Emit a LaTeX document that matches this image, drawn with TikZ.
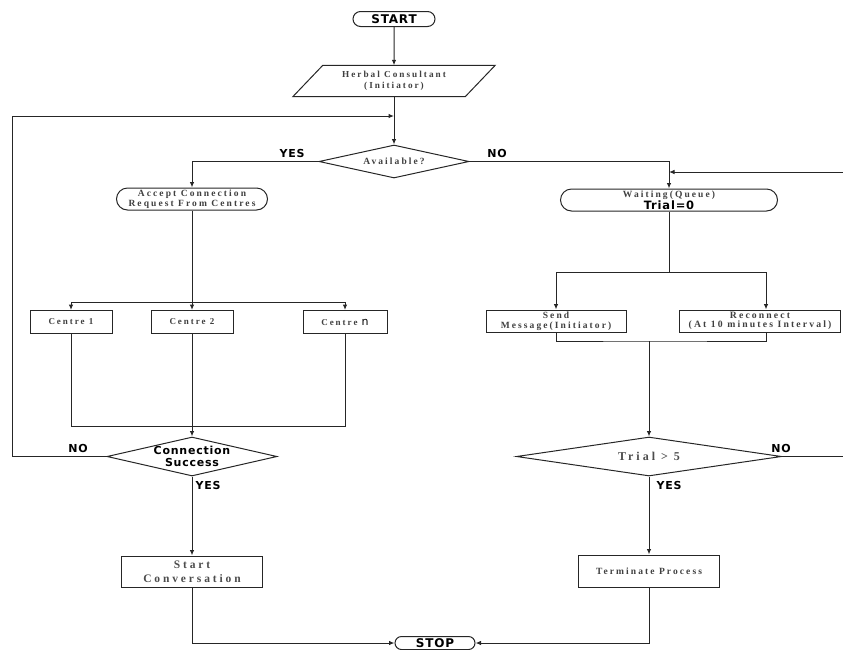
\documentclass[tikz,border=0pt]{standalone}
\usepackage{fontspec}
\setmainfont{Liberation Serif}
\newfontfamily\srf[LetterSpace=22]{Liberation Serif}
\newfontfamily\srl[LetterSpace=25]{Liberation Serif}
\newfontfamily\snb[LetterSpace=7]{DejaVu Sans}
\newfontfamily\dvs{DejaVu Sans}
\usetikzlibrary{shapes.geometric,shapes.misc,arrows.meta}
\begin{document}
\begin{tikzpicture}[x=1pt,y=-1pt,
  ln/.style={draw=black!85,line width=1pt},
  arr/.style={ln,-{Latex[length=5.5pt,width=4.5pt]}},
  term/.style={rounded rectangle,ln,inner sep=0pt},
  pbox/.style={rectangle,ln,inner sep=0pt},
  dia/.style={diamond,ln,inner sep=0pt},
  st/.style={font=\srf\bfseries\fontsize{9.5}{9.5}\selectfont,text=black!75,align=center},
  stl/.style={font=\srl\bfseries\fontsize{11.5}{13.5}\selectfont,text=black!70,align=center},
  sb/.style={font=\snb\bfseries\fontsize{12}{12}\selectfont,align=center},
  lab/.style={font=\snb\bfseries\fontsize{11}{11}\selectfont,inner sep=0pt}
]
\useasboundingbox (0,0) rectangle (843,649);
\clip (0,0) rectangle (843,649);

% nodes
\node[term,minimum width=82pt,minimum height=15pt,sb] (start) at (394,19) {START};
\node[minimum width=172pt,minimum height=31pt,inner sep=0pt,st,font=\srf\bfseries\fontsize{9.2}{11}\selectfont] (hc) at (394,81) {Herbal Consultant\\(Initiator)};
\node[dia,minimum width=150pt,minimum height=33pt,label={[st,font=\srf\bfseries\fontsize{9.5}{10}\selectfont]center:Available?}] (av) at (394,161.5) {};
\node[term,minimum width=151pt,minimum height=22pt,st] (acc) at (192,199) {Accept Connection\\Request From Centres};
\node[pbox,minimum width=82pt,minimum height=23pt,st,font=\srf\bfseries\fontsize{9}{9}\selectfont] (c1) at (71,322) {Centre 1};
\node[pbox,minimum width=82pt,minimum height=23pt,st,font=\srf\bfseries\fontsize{9}{9}\selectfont] (c2) at (192,322) {Centre 2};
\node[pbox,minimum width=84pt,minimum height=23pt,st,font=\srf\bfseries\fontsize{9}{9}\selectfont] (cn) at (345,322) {Centre {\dvs\mdseries\fontsize{11}{10}\selectfont\color{black} n}};
\node[dia,minimum width=170pt,minimum height=39pt,label={[sb,font=\snb\bfseries\fontsize{11}{12.5}\selectfont]center:Connection\\Success}] (cs) at (192,456.5) {};
\node[pbox,minimum width=141pt,minimum height=31pt,stl] (sc) at (192,571.5) {Start\\Conversation};
\node[term,minimum width=80pt,minimum height=13pt,sb] (stop) at (435,643) {STOP};
\node[term,minimum width=217pt,minimum height=22pt,align=center,inner sep=0pt,font=\fontsize{9.5}{10.5}\selectfont] (wait) at (669,200) {{\srf\bfseries\color{black!75}Waiting(Queue)}\\{\snb\bfseries\fontsize{11.5}{10.5}\selectfont Trial=0}};
\node[pbox,minimum width=140pt,minimum height=22pt,st] (send) at (556,321) {Send\\Message(Initiator)};
\node[pbox,minimum width=161pt,minimum height=22pt,st,font=\srf\bfseries\fontsize{9.7}{9.5}\selectfont] (rec) at (760,321) {Reconnect\\(At 10 minutes Interval)};
\node[dia,minimum width=265pt,minimum height=39pt,label={[stl,font=\srl\bfseries\fontsize{12}{13}\selectfont]center:Trial > 5}] (tr) at (649,456.5) {};
\node[pbox,minimum width=141pt,minimum height=32pt,st] (tp) at (649,571) {Terminate Process};

% parallelogram outline
\draw[ln] ([xshift=15pt]hc.north west) -- ([xshift=15pt]hc.north east) -- ([xshift=-15pt]hc.south east) -- ([xshift=-15pt]hc.south west) -- cycle;

% helper coordinates
\coordinate (lb) at (12,116);
\coordinate (b1) at (192,302);
\coordinate (m1) at (192,426);
\coordinate (b2) at (669,272);
\coordinate (m2) at (649,341);
\coordinate (rt) at (848,172);
\coordinate (rb) at (848,456.5);

% connectors
\draw[arr] (start) -- (hc);
\draw[arr] (hc.south) -- (av.north);
\draw[arr] (cs.west) -| (lb) -- (lb -| av.north);
\draw[arr] (av.west) -| (acc.north);
\draw[arr] (av.east) -| (wait.north);
\draw[arr] (acc.south) -- (c2.north);
\draw[arr] (b1) -| (c1.north);
\draw[arr] (b1) -| (cn.north);
\draw[ln] (c1.south) |- (m1) -| (cn.south);
\draw[arr] (c2.south) -- (cs.north);
\draw[arr] (cs.south) -- (sc.north);
\draw[arr] (sc.south) |- (stop.west);
\draw[arr] (tp.south) |- (stop.east);
\draw[ln] (wait.south) -- (b2);
\draw[arr] (b2) -| (send.north);
\draw[arr] (b2) -| ([xshift=6pt]rec.north);
\draw[ln] (send.south) |- (m2) -| ([xshift=6pt]rec.south);
\draw[arr] (m2) -- (tr.north);
\draw[arr] (tr.south) -- (tp.north);
\draw[arr] (tr.east) -- (rb) -- (rt) -- (rt -| wait.north);

% labels
\node[lab,anchor=south] (yes1) at (292,158) {YES};
\node[lab,anchor=south] (no1) at (497,158) {NO};
\node[lab,anchor=south] (no2) at (78,453) {NO};
\node[lab,anchor=north] (yes2) at (208,481) {YES};
\node[lab,anchor=north] (yes3) at (669,481) {YES};
\node[lab,anchor=south] (no3) at (781,453) {NO};
\end{tikzpicture}
\end{document}
